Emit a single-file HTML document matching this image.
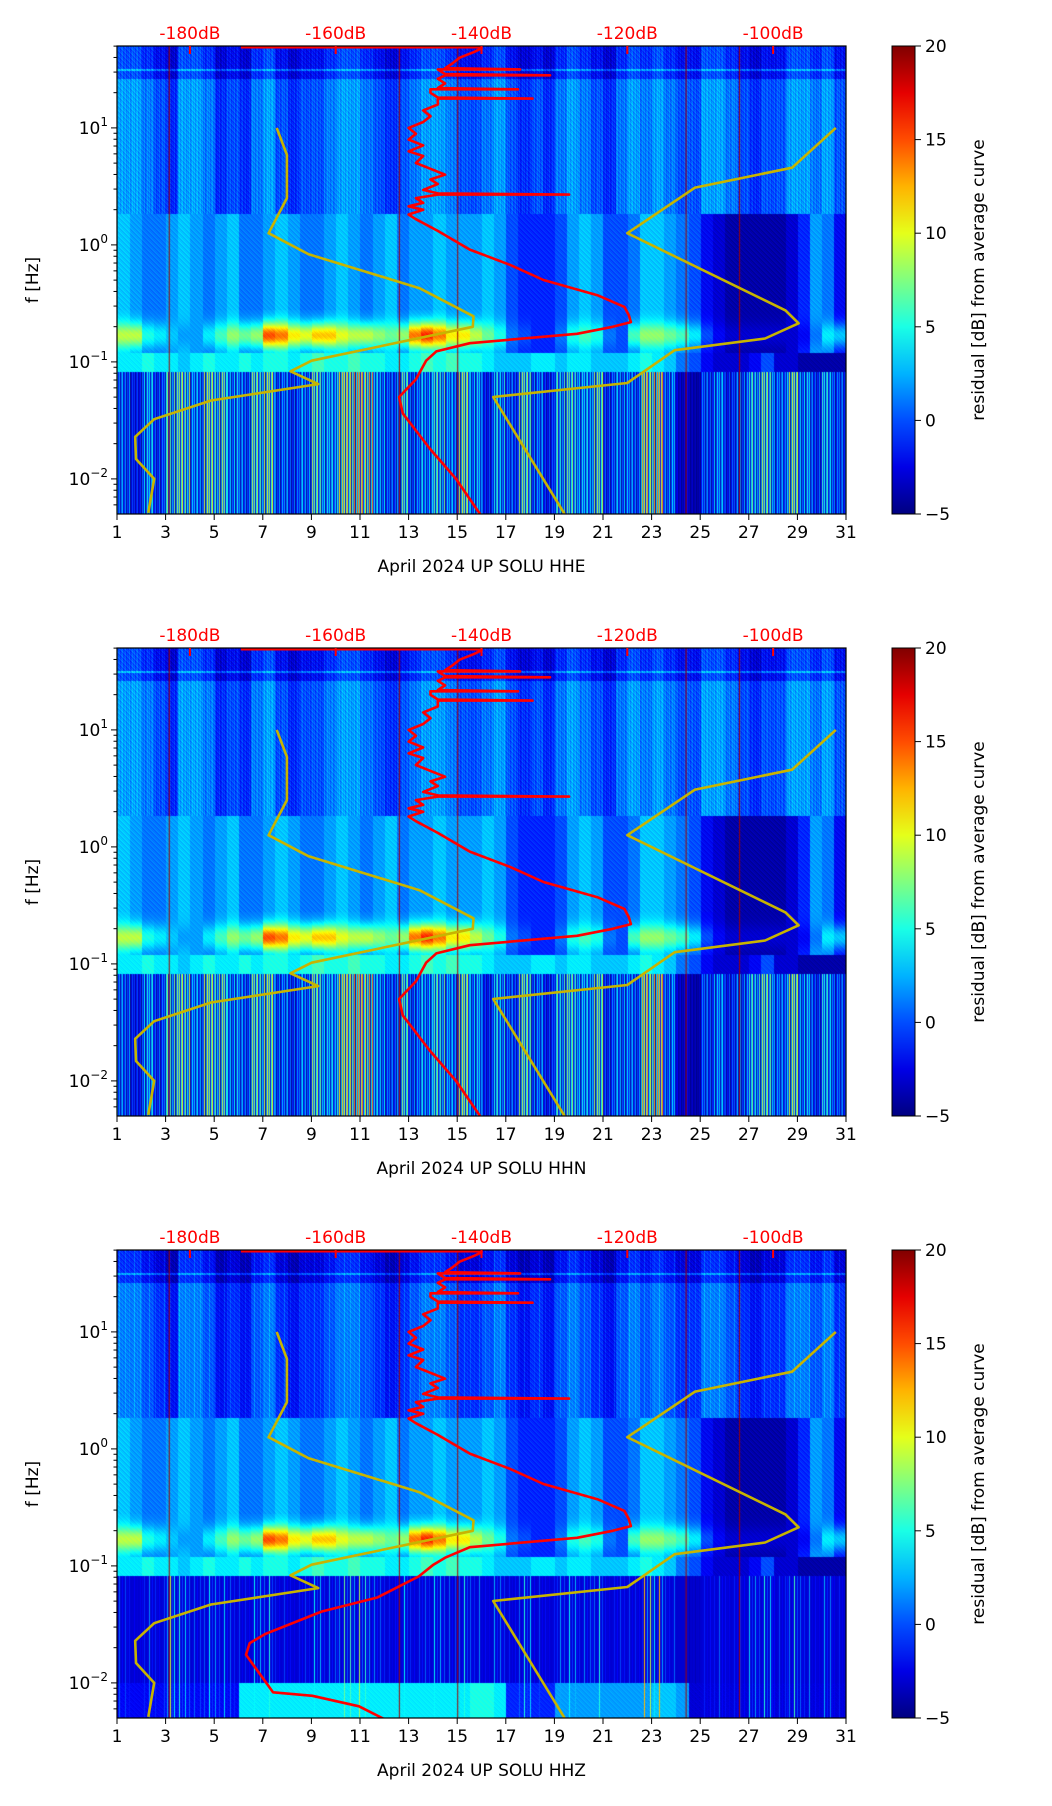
<!DOCTYPE html>
<html><head><meta charset="utf-8">
<style>
html,body{margin:0;padding:0;background:#fff;}
body{width:1052px;height:1806px;position:relative;overflow:hidden;font-family:"DejaVu Sans","Liberation Sans",sans-serif;}
canvas{position:absolute;z-index:1;}
svg{position:absolute;left:0;top:0;z-index:2;}
</style></head>
<body>
<svg id="svg" width="1052" height="1806"></svg>
<script>
// ---- data (per half-day columns, days 1..31) ----
const hfBand = [2,2,1,0,-1,2,2,1,-1,0,-1,1,2,0,-1,0,0,1,2,2,1,0,-1,0,1,2,2,1,0,0,1,2,0,-1,0,-1,1,2,1,0,-1,1,2,1,2,1,0,0,2,2,1,0,-1,0,0,2,2,1,2,0];
const midBand = [3,2,1,1,2,3,2,1,2,3,1,1,2,3,2,1,1,2,3,2,1,2,3,1,2,2,3,2,2,2,3,2,0,-1,-1,-1,0,2,3,2,0,0,1,3,3,2,1,0,-2,-3,-4,-4,-4,-4,-4,-3,-1,2,1,-2];
const microBand = [9,9,5,4,3,2,2,4,6,8,7,8,15,14,11,10,12,12,10,9,9,8,7,8,14,16,14,11,11,9,7,5,1,0,-1,-1,1,5,6,5,1,0,6,8,8,7,6,4,0,-2,-3,-3,-3,-3,-3,-3,-2,1,4,3];
const secBand = [4,4,5,4,4,3,4,5,4,4,5,4,5,5,4,5,6,5,5,6,5,5,4,4,5,6,5,6,5,5,4,3,3,3,4,4,3,4,4,3,3,3,4,5,4,3,1,0,-2,-3,-3,-3,-2,0,-3,-3,-4,-4,-4,-4];
const lowBand = [3,0,5,2,8,10,4,10,9,5,3,9,10,3,2,4,9,5,12,15,14,5,2,8,3,5,8,4,10,5,1,6,2,9,3,1,7,8,5,9,2,4,3,13,14,4,-2,-3,2,4,1,3,7,9,3,10,5,2,6,2];
const lowBandZ = [1,-2,2,0,14,6,1,5,4,2,0,5,6,0,-1,1,5,2,8,10,9,2,-1,5,0,2,5,1,6,2,-1,3,-1,6,0,-1,4,5,2,6,-1,1,0,14,14,1,-3,-4,-1,1,-1,0,4,6,0,7,2,-1,3,-1];
const bottomBandZ = [-2,-2,-2,-2,-2,-2,-2,-2,-2,-2,4,4,4,4,4,4,4,4,4,4,4,4,4,4,4,4,4,4,4,5,5,4,-1,-1,-1,-1,2,2,2,2,2,2,2,2,3,3,2,-3,-3,-3,-3,-3,-3,-3,-3,-3,-3,-3,-3,-3];
const redLineDays = [3.13,12.6,15.0,24.4,26.6];

const redLogF = [-2.3,-2.0,-1.74,-1.44,-1.3,-1.15,-0.99,-0.91,-0.84,-0.76,-0.70,-0.66,-0.60,-0.53,-0.43,-0.30,-0.17,-0.04,0.12,0.22,0.26,0.28,0.3,0.33,0.36,0.40,0.43,0.43,0.44,0.47,0.52,0.56,0.60,0.65,0.70,0.76,0.80,0.85,0.9,0.95,1.0,1.05,1.1,1.15,1.2,1.25,1.25,1.26,1.3,1.33,1.33,1.34,1.38,1.42,1.45,1.45,1.46,1.5,1.5,1.51,1.55,1.6,1.65,1.68,1.69,1.69];
const redDB = [-140.2,-143.5,-147.1,-150.8,-151.3,-149,-147.6,-146.2,-141.6,-126.9,-122,-119.5,-119.8,-120.4,-124.1,-131.5,-136.1,-141.6,-146,-149,-150,-149,-148,-150,-148,-149,-146,-128,-146,-148,-146,-147,-145,-147,-149,-148,-150,-148,-150,-149,-150,-148,-147,-148,-146,-146,-133,-146,-147,-147,-135,-146,-145,-146,-145,-130.6,-145,-146,-134.7,-145,-144,-143,-141,-140,-140,-173];
const redLowLogFZ = [-2.38,-2.2,-2.11,-2.08,-1.76,-1.66,-1.58,-1.39,-1.27,-1.09,-0.99,-0.93];
const redLowDBZ = [-151.1,-156.8,-163.2,-168.6,-172.3,-171.8,-169.6,-161.9,-154.3,-148.6,-146.6,-145];

const nlnmLogF = [1.0,0.77,0.40,0.10,-0.08,-0.37,-0.61,-0.70,-0.99,-1.08,-1.19,-1.33,-1.49,-1.64,-1.83,-2.0,-2.29];
const nlnmDB = [-168.1,-166.7,-166.7,-169.2,-163.7,-148.5,-141.1,-141.2,-163.3,-166.2,-162.4,-177.1,-184.9,-187.5,-187.4,-184.9,-185.7];
const nhnmLogF = [1.0,0.66,0.49,0.10,-0.56,-0.67,-0.80,-0.90,-1.18,-1.30,-2.3];
const nhnmDB = [-91.4,-97.4,-110.7,-120,-98.3,-96.5,-101.1,-113.5,-120,-138.4,-128.6];

const dayTicks = [1,3,5,7,9,11,13,15,17,19,21,23,25,27,29,31];
const dbTicks = [-180,-160,-140,-120,-100];
const cbTicks = [-5,0,5,10,15,20];
const channels = ["HHE","HHN","HHZ"];

// ---- layout ----
const L=117, R=846, PH=468, TOPS=[46,648,1250];
const W=R-L;
const LF0=-2.3, LF1=1.7;
const DB0=-190, DB1=-90;
const xDay = d => L + (d-1)/30*W;
const xDB = db => L + (db-DB0)/(DB1-DB0)*W;
const yLF = (lf,top) => top + (LF1-lf)/(LF1-LF0)*PH;

function jet(t){
  t=Math.max(0,Math.min(1,t));
  const c=v=>Math.max(0,Math.min(1,v));
  return [c(1.5-Math.abs(4*t-3))*255, c(1.5-Math.abs(4*t-2))*255, c(1.5-Math.abs(4*t-1))*255];
}
const NS="http://www.w3.org/2000/svg";
const svg=document.getElementById('svg');
const defs=document.createElementNS(NS,'defs');svg.appendChild(defs);
function el(tag,attrs,parent){const e=document.createElementNS(NS,tag);for(const k in attrs)e.setAttribute(k,attrs[k]);(parent||svg).appendChild(e);return e;}

const patA=[1,0.4,0.9,0.15,0.7,1,0.2,0.5,0.85,0.1,0.6,0.3,0.95,0.05,0.45];
const patZ=[0.1,0,0.9,0,0.05,0.3,0,0,0.7,0,0.15,0,0.4,0,0];

TOPS.forEach((top,p)=>{
  const cv=document.createElement('canvas');
  cv.width=W;cv.height=PH;cv.style.left=L+'px';cv.style.top=top+'px';
  
  
  document.body.appendChild(cv);
  const ctx=cv.getContext('2d');
  const img=ctx.createImageData(W,PH);
  const low = p===2?lowBandZ:lowBand;
  const pat = p===2?patZ:patA;
  const lowBase = p===2?-3:-5;
  for(let px=0;px<W;px++){
    const day=1+px/W*30;
    const col=Math.min(59,Math.floor((day-1)*2));
    const t=pat[px%pat.length];
    for(let py=0;py<PH;py++){
      const lf=LF1-py/PH*(LF1-LF0);
      const tex=(((px*7+py*13)%5)-2)*0.6;
      let v;
      if(lf>=0.27){
        v=hfBand[col]+tex+(t-0.5)*2;
        if(lf>1.42) v-=2;
        if(Math.abs(lf-1.5)<0.006) v+=3;
      } else if(lf>=-0.55){
        v=midBand[col]+tex*0.8;
      } else if(lf>=-0.92){
        const b=Math.exp(-Math.pow((lf+0.77)/0.11,2));
        v=midBand[col]+(microBand[col]-midBand[col])*b+tex*0.5;
      } else if(lf>=-1.08){
        v=secBand[col]+tex*0.5;
      } else {
        v=lowBase+(low[col]-lowBase)*t;
        if(p===2 && lf<-2.0) v=Math.max(v,bottomBandZ[col]+tex*0.5);
      }
      const c=jet((v+5)/25);
      const i=(py*W+px)*4;
      img.data[i]=c[0];img.data[i+1]=c[1];img.data[i+2]=c[2];img.data[i+3]=255;
    }
  }
  ctx.putImageData(img,0,0);
  ctx.fillStyle='#a00000';
  redLineDays.forEach(d=>{ctx.fillRect(xDay(d)-L,0,1,PH);});

  // curves
  const cp=el('clipPath',{id:'clip'+p},defs);
  el('rect',{x:L,y:top,width:W,height:PH},cp);
  const g=el('g',{'clip-path':'url(#clip'+p+')'});
  function line(lfs,dbs,color,name){
    const pts=lfs.map((lf,i)=>xDB(dbs[i]).toFixed(1)+','+yLF(lf,top).toFixed(1)).join(' ');
    const pl=el('polyline',{points:pts,fill:'none',stroke:color,'stroke-width':2.6,'stroke-linejoin':'round'},g);
    
    
  }
  line(nlnmLogF,nlnmDB,'#c8b400','nlnm-curve');
  line(nhnmLogF,nhnmDB,'#c8b400','nhnm-curve');
  if(p===2) line(redLowLogFZ.concat(redLogF.slice(8)),redLowDBZ.concat(redDB.slice(8)),'#ff0000','psd-curve');
  else line(redLogF,redDB,'#ff0000','psd-curve');

  const fr=el('rect',{x:L,y:top,width:W,height:PH,fill:'none',stroke:'#000','stroke-width':1.2});
  
  

  dayTicks.forEach(d=>{
    const x=xDay(d);
    el('line',{x1:x,x2:x,y1:top+PH,y2:top+PH+6,stroke:'#000','stroke-width':1});
    const t=el('text',{x:x,y:top+PH+24,'font-size':17,'text-anchor':'middle',fill:'#000'});
    t.textContent=d;
    
    
  });
  const xl=el('text',{x:(L+R)/2,y:top+PH+58,'font-size':17,'text-anchor':'middle',fill:'#000'});
  xl.textContent='April 2024 UP SOLU  '+channels[p];
  
  

  for(let e=-3;e<=1;e++){
    for(let m=1;m<10;m++){
      const lf=e+Math.log10(m);
      if(lf<LF0||lf>LF1) continue;
      const y=yLF(lf,top);
      el('line',{x1:L,x2:L-(m===1?6:3.5),y1:y,y2:y,stroke:'#000','stroke-width':1});
      if(m===1){
        const t=el('text',{x:L-9,y:y+6,'font-size':17,'text-anchor':'end',fill:'#000'});
        
        
        const a=el('tspan',{},t);a.textContent='10';
        const b=el('tspan',{dy:-8,'font-size':12},t);b.textContent=(e<0?'\u2212':'')+Math.abs(e);
      }
    }
  }
  const yl=el('text',{x:0,y:0,'font-size':17,'text-anchor':'middle',fill:'#000',transform:'translate(38,'+(top+PH/2)+') rotate(-90)'});
  yl.textContent='f [Hz]';
  
  

  dbTicks.forEach(db=>{
    const x=xDB(db);
    el('line',{x1:x,x2:x,y1:top,y2:top+8,stroke:'#ff0000','stroke-width':2});
    const t=el('text',{x:x,y:top-7,'font-size':17,'text-anchor':'middle',fill:'#ff0000'});
    t.textContent=db+'dB';
    
    
  });

  const gid='cbg'+p;
  const lg=el('linearGradient',{id:gid,x1:0,y1:1,x2:0,y2:0},defs);
  for(let i=0;i<=10;i++){const c=jet(i/10);el('stop',{offset:i/10,'stop-color':'rgb('+c.map(Math.round).join(',')+')'},lg);}
  const cb=el('rect',{x:892,y:top,width:23,height:PH,fill:'url(#'+gid+')',stroke:'#000','stroke-width':1});
  
  
  cbTicks.forEach(v=>{
    const y=top+PH-(v+5)/25*PH;
    el('line',{x1:915,x2:921,y1:y,y2:y,stroke:'#000','stroke-width':1});
    const t=el('text',{x:925,y:y+6,'font-size':17,fill:'#000'});
    t.textContent=(v<0?'\u2212':'')+Math.abs(v);
    
    
  });
  const cl=el('text',{x:0,y:0,'font-size':17,'text-anchor':'middle',fill:'#000',transform:'translate(984,'+(top+PH/2)+') rotate(-90)'});
  cl.textContent='residual [dB] from average curve';
  
  
});
</script>
</body></html>
